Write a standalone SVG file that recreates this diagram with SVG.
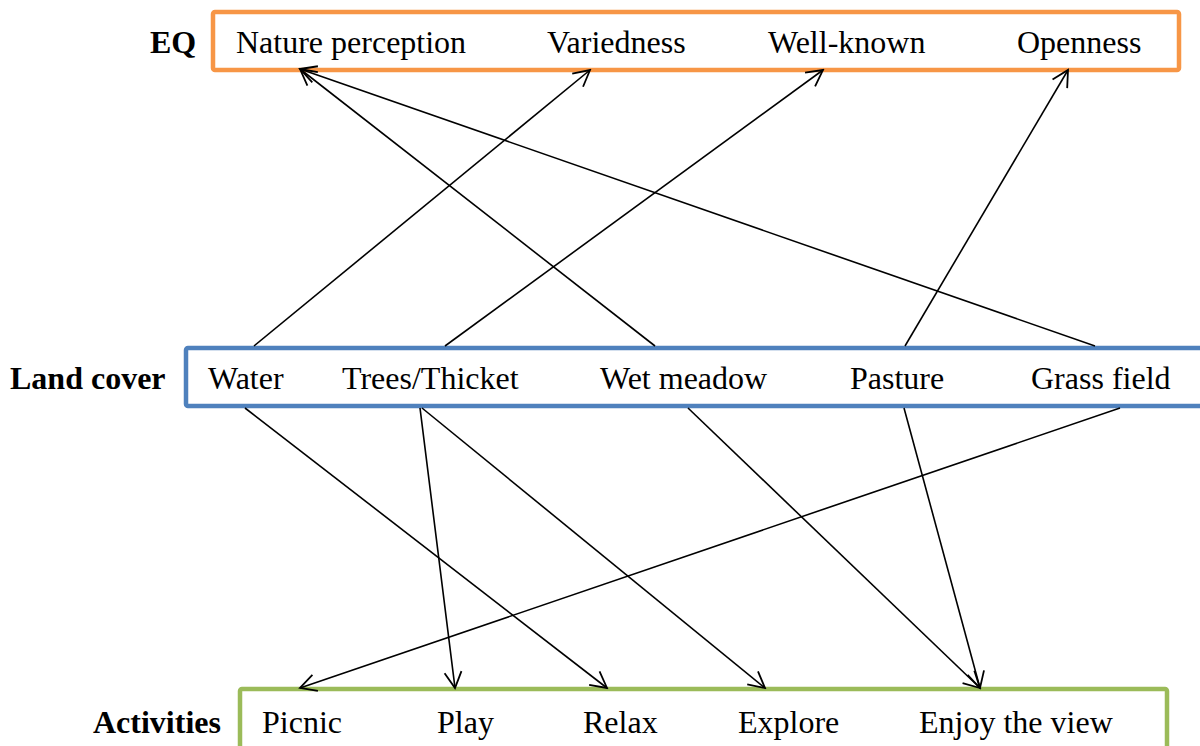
<svg xmlns="http://www.w3.org/2000/svg" width="1200" height="746" viewBox="0 0 1200 746">
<defs>
<style>
.lbl{font-family:"Liberation Serif","Times New Roman",serif;font-size:32px;fill:#000}
.cat{font-family:"Liberation Serif","Times New Roman",serif;font-size:32px;font-weight:bold;fill:#000}
.box{fill:#fff;stroke-width:4.5}
.edge{stroke:#000;stroke-width:1.6;fill:none;marker-end:url(#arr)}
</style>
<marker id="arr" markerUnits="userSpaceOnUse" viewBox="-18 -10 20 20" refX="0" refY="0" markerWidth="20" markerHeight="20" orient="auto">
<path d="M-16,-8.5 L0,0 L-16,8.5" fill="none" stroke="#000" stroke-width="1.8"/>
</marker>
</defs>
<rect width="1200" height="746" fill="#fff"/>
<g id="eq">
<rect class="box" x="213" y="12" width="966" height="58" rx="2" stroke="#F79646"/>
<text class="cat" x="150" y="53">EQ</text>
<text class="lbl" x="236" y="53">Nature perception</text>
<text class="lbl" x="547" y="53">Variedness</text>
<text class="lbl" x="768" y="53">Well-known</text>
<text class="lbl" x="1017" y="53">Openness</text>
</g>
<g id="landcover">
<rect class="box" x="186" y="348" width="1030" height="58" rx="2" stroke="#4F81BD"/>
<text class="cat" x="10" y="389">Land cover</text>
<text class="lbl" x="208" y="389">Water</text>
<text class="lbl" x="342" y="389">Trees/Thicket</text>
<text class="lbl" x="600" y="389">Wet meadow</text>
<text class="lbl" x="850" y="389">Pasture</text>
<text class="lbl" x="1031" y="389">Grass field</text>
</g>
<g id="activities">
<rect class="box" x="240" y="689" width="927" height="80" rx="2" stroke="#9BBB59"/>
<text class="cat" x="93" y="733">Activities</text>
<text class="lbl" x="262" y="733">Picnic</text>
<text class="lbl" x="437" y="733">Play</text>
<text class="lbl" x="583" y="733">Relax</text>
<text class="lbl" x="738" y="733">Explore</text>
<text class="lbl" x="919" y="733">Enjoy the view</text>
</g>
<g id="connectors">
<line class="edge" x1="254" y1="346" x2="590" y2="70"/>
<line class="edge" x1="445" y1="346" x2="823" y2="70"/>
<line class="edge" x1="655" y1="346" x2="300" y2="69"/>
<line class="edge" x1="1095" y1="346" x2="300" y2="69"/>
<line class="edge" x1="905" y1="346" x2="1068" y2="70"/>
<line class="edge" x1="245" y1="408" x2="607" y2="688"/>
<line class="edge" x1="420" y1="408" x2="455" y2="688"/>
<line class="edge" x1="422" y1="408" x2="765" y2="688"/>
<line class="edge" x1="688" y1="408" x2="980" y2="688"/>
<line class="edge" x1="904" y1="408" x2="980" y2="688"/>
<line class="edge" x1="1120" y1="408" x2="300" y2="688"/>
</g>
</svg>
